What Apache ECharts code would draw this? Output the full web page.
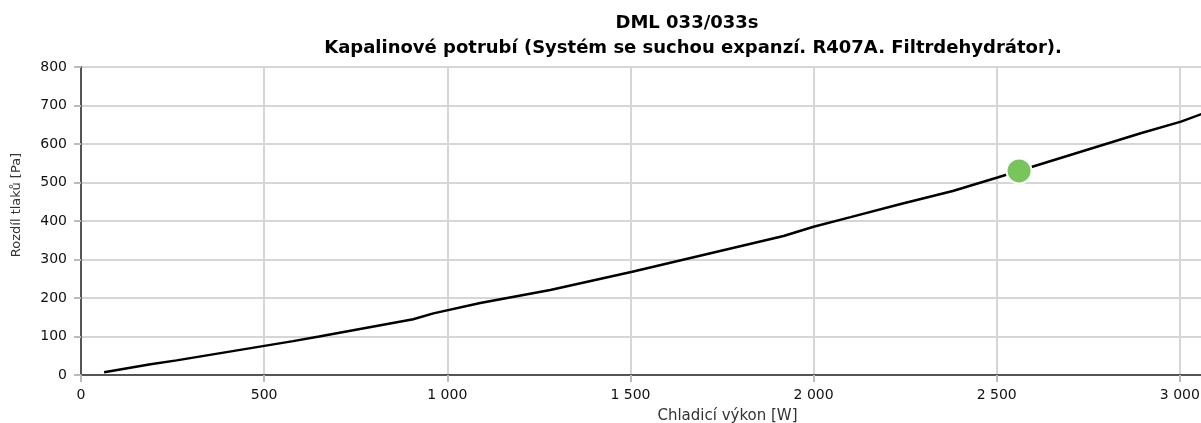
<!DOCTYPE html>
<html>
<head>
<meta charset="utf-8">
<script src="https://cdn.jsdelivr.net/npm/echarts@6/dist/echarts.min.js"></script>
<style>
  html, body { margin: 0; padding: 0; background: #fff; }
  #chart { width: 1201px; height: 423px; }
</style>
</head>
<body>
<div id="chart"></div>
<script>
// Pressure drop curve of the liquid line vs. cooling capacity
const capacityW = [63, 190, 261, 579, 650, 907, 962, 1090, 1281, 1505, 1918, 2000, 2101, 2238, 2380, 2502, 2893, 3003, 3060];
const pressurePa = [7, 28, 38, 88, 100, 145, 160, 187, 221, 268, 361, 385, 410, 444, 478, 513, 628, 658, 678];

// Operating point
const pointW = [2561];
const pointPa = [530];

const titleMain = 'DML 033/033s';
const titleSub = 'Kapalinové potrubí (Systém se suchou expanzí. R407A. Filtrdehydrátor).';
const xName = 'Chladicí výkon [W]';
const yName = 'Rozdíl tlaků [Pa]';

const fmtThousands = v => String(v).replace(/\B(?=(\d{3})+(?!\d))/g, ' ');

const chart = echarts.init(document.getElementById('chart'), null, { renderer: 'canvas' });

const font = 'DejaVu Sans, Verdana, sans-serif';

chart.setOption({
  animation: false,
  backgroundColor: '#ffffff',
  title: [
    {
      text: titleMain,
      left: 682, top: 9, textAlign: 'center',
      textStyle: { fontFamily: font, fontSize: 18, fontWeight: 'bold', color: '#000' }
    },
    {
      text: titleSub,
      left: 688, top: 34, textAlign: 'center',
      textStyle: { fontFamily: font, fontSize: 18, fontWeight: 'bold', color: '#000' }
    }
  ],
  // the plot area runs past the right edge of the canvas
  grid: { left: 81, top: 67, width: 1293, height: 308, containLabel: false, outerBoundsMode: 'none' },
  xAxis: {
    type: 'value',
    min: 0, max: 3530, interval: 500,
    name: xName,
    nameLocation: 'middle',
    nameGap: 34,
    nameTextStyle: { fontFamily: font, fontSize: 15, color: '#333' },
    axisLine: { show: true, lineStyle: { color: '#555', width: 2 } },
    axisTick: { show: true, length: 7, lineStyle: { color: '#bbb', width: 2 } },
    axisLabel: { margin: 13, fontFamily: font, fontSize: 14, color: '#111', formatter: fmtThousands },
    splitLine: { show: true, lineStyle: { color: '#d6d6d6', width: 2 } }
  },
  yAxis: {
    type: 'value',
    min: 0, max: 800, interval: 100,
    name: yName,
    nameLocation: 'middle',
    nameGap: 58,
    nameRotate: 90,
    nameTextStyle: { fontFamily: font, fontSize: 13, color: '#333', padding: [0, 0, 0, 32] },
    axisLine: { show: true, lineStyle: { color: '#555', width: 2 } },
    axisTick: { show: true, length: 7, lineStyle: { color: '#bbb', width: 2 } },
    axisLabel: { margin: 14, fontFamily: font, fontSize: 14, color: '#111' },
    splitLine: { show: true, lineStyle: { color: '#d6d6d6', width: 2 } }
  },
  series: [
    {
      type: 'line',
      data: capacityW.map((x, i) => [x, pressurePa[i]]),
      showSymbol: false,
      symbol: 'none',
      smooth: false,
      lineStyle: { color: '#000', width: 2.5 },
      z: 2
    },
    {
      type: 'scatter',
      data: pointW.map((x, i) => [x, pointPa[i]]),
      symbol: 'circle',
      symbolSize: 25,
      itemStyle: { color: '#78c55c', borderColor: '#ffffff', borderWidth: 2, opacity: 1 },
      z: 3
    }
  ]
});
</script>
</body>
</html>
